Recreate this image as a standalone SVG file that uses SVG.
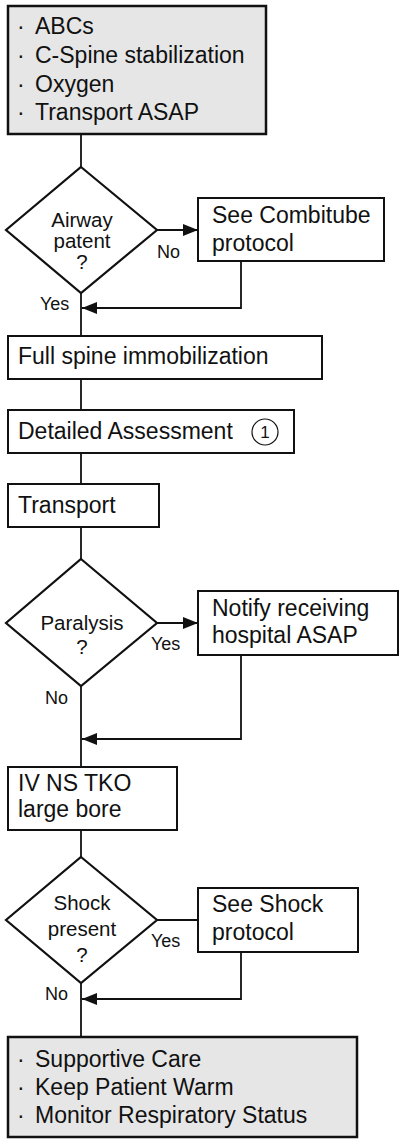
<svg xmlns="http://www.w3.org/2000/svg" width="400" height="1140" viewBox="0 0 400 1140">
<style>
text{font-family:"Liberation Sans",Arial,sans-serif;fill:#111}
.box{fill:#fff;stroke:#111;stroke-width:2}
.grey{fill:#e6e6e6;stroke:#111;stroke-width:2.5}
.dia{fill:#fff;stroke:#111;stroke-width:2.2}
.t{font-size:23px}
.d{font-size:20.5px;text-anchor:middle}
.lbl{font-size:18px}
.ln{fill:none;stroke:#111;stroke-width:1.8}
</style>
<defs>
<marker id="arr" markerWidth="15" markerHeight="12" refX="15" refY="6" orient="auto" markerUnits="userSpaceOnUse">
<path d="M0,0 L15,6 L0,12 Z" fill="#111"/>
</marker>
</defs>
<g id="connectors">
<path class="ln" d="M81,134 V167"/>
<path class="ln" d="M157,230 H198" marker-end="url(#arr)"/>
<path class="ln" d="M241,261 V308 H82" marker-end="url(#arr)"/>
<path class="ln" d="M81,293 V336"/>
<path class="ln" d="M81,379 V410"/>
<path class="ln" d="M81,453 V484"/>
<path class="ln" d="M81,527 V559"/>
<path class="ln" d="M157,623 H198" marker-end="url(#arr)"/>
<path class="ln" d="M241,655 V739 H82" marker-end="url(#arr)"/>
<path class="ln" d="M81,686 V767"/>
<path class="ln" d="M81,830 V857"/>
<path class="ln" d="M157,920 H198"/>
<path class="ln" d="M241,952 V999 H82" marker-end="url(#arr)"/>
<path class="ln" d="M81,983 V1037"/>
<text class="lbl" x="157" y="258">No</text>
<text class="lbl" x="40" y="310">Yes</text>
<text class="lbl" x="151" y="650">Yes</text>
<text class="lbl" x="45" y="704">No</text>
<text class="lbl" x="151" y="947">Yes</text>
<text class="lbl" x="45" y="1000">No</text>
</g>
<g id="start">
<rect class="grey" x="8" y="6" width="258" height="128"/>
<text class="t" x="17" y="34">· <tspan x="35">ABCs</tspan></text>
<text class="t" x="17" y="63">· <tspan x="35">C-Spine stabilization</tspan></text>
<text class="t" x="17" y="92">· <tspan x="35">Oxygen</tspan></text>
<text class="t" x="17" y="120">· <tspan x="35">Transport ASAP</tspan></text>
</g>
<g id="airway">
<polygon class="dia" points="81,167 157,230 81,293 6,230"/>
<text class="d" x="82" y="227">Airway</text>
<text class="d" x="82" y="248">patent</text>
<text class="d" x="82" y="269">?</text>
</g>
<g id="combitube">
<rect class="box" x="198" y="198" width="186" height="63"/>
<text class="t" x="212" y="223">See Combitube</text>
<text class="t" x="212" y="251">protocol</text>
</g>
<g id="spine">
<rect class="box" x="8" y="336" width="314" height="43"/>
<text class="t" x="18" y="364">Full spine immobilization</text>
</g>
<g id="assessment">
<rect class="box" x="8" y="410" width="286" height="43"/>
<text class="t" x="18" y="439">Detailed Assessment</text>
<circle cx="265" cy="432" r="13" fill="none" stroke="#111" stroke-width="1.2"/>
<text x="265" y="438" font-size="17" text-anchor="middle">1</text>
</g>
<g id="transport">
<rect class="box" x="8" y="484" width="151" height="43"/>
<text class="t" x="18" y="513">Transport</text>
</g>
<g id="paralysis">
<polygon class="dia" points="81,559 157,623 81,686 6,623"/>
<text class="d" x="82" y="630">Paralysis</text>
<text class="d" x="82" y="654">?</text>
</g>
<g id="notify">
<rect class="box" x="198" y="591" width="200" height="64"/>
<text class="t" x="212" y="616">Notify receiving</text>
<text class="t" x="212" y="643">hospital ASAP</text>
</g>
<g id="iv">
<rect class="box" x="8" y="767" width="169" height="63"/>
<text class="t" x="18" y="791">IV NS TKO</text>
<text class="t" x="18" y="817">large bore</text>
</g>
<g id="shock">
<polygon class="dia" points="81,857 157,920 81,983 6,920"/>
<text class="d" x="82" y="910">Shock</text>
<text class="d" x="82" y="936">present</text>
<text class="d" x="82" y="962">?</text>
</g>
<g id="shockprotocol">
<rect class="box" x="198" y="888" width="160" height="64"/>
<text class="t" x="212" y="912">See Shock</text>
<text class="t" x="212" y="940">protocol</text>
</g>
<g id="end">
<rect class="grey" x="8" y="1037" width="349" height="100"/>
<text class="t" x="17" y="1067">· <tspan x="35">Supportive Care</tspan></text>
<text class="t" x="17" y="1095">· <tspan x="35">Keep Patient Warm</tspan></text>
<text class="t" x="17" y="1123">· <tspan x="35">Monitor Respiratory Status</tspan></text>
</g>
</svg>
